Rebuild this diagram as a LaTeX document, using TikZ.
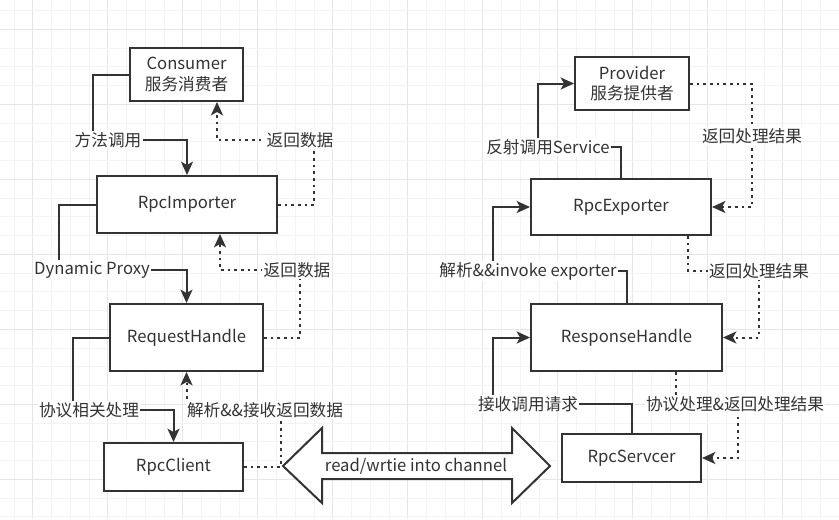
\documentclass[tikz,border=0pt]{standalone}
\usepackage{fontspec}
\setmainfont{Noto Sans CJK SC}
\usetikzlibrary{arrows.meta}
\definecolor{ink}{HTML}{333333}
\definecolor{gmin}{HTML}{F3F3F3}
\definecolor{gmaj}{HTML}{E6E6E6}
\begin{document}
\begin{tikzpicture}[x=0.75pt,y=-0.75pt,
  font=\fontsize{12.5pt}{15.5pt}\selectfont,
  box/.style={draw=ink, line width=1.5pt, fill=white, text=ink, inner sep=0pt, align=center},
  conn/.style={draw=ink, line width=1.5pt, -{Stealth[length=10pt,width=9pt,inset=2.5pt]}},
  dotline/.style={conn, dash pattern=on 2pt off 3pt},
  lab/.style={fill=white, text=ink, inner sep=1pt}]
\useasboundingbox (0,0) rectangle (839,519);
\fill[white] (0,0) rectangle (839,519);
% grid
\foreach \i in {0,...,45} {
  \pgfmathtruncatemacro{\m}{mod(\i,4)}
  \ifnum\m=2 \draw[gmaj, line width=0.75pt] (-4.75+18.75*\i,0) -- (-4.75+18.75*\i,519);
  \else \draw[gmin, line width=0.75pt] (-4.75+18.75*\i,0) -- (-4.75+18.75*\i,519); \fi
}
\foreach \j in {0,...,28} {
  \pgfmathtruncatemacro{\m}{mod(\j,4)}
  \ifnum\m=2 \draw[gmaj, line width=0.75pt] (0,-8.05+18.75*\j) -- (839,-8.05+18.75*\j);
  \else \draw[gmin, line width=0.75pt] (0,-8.05+18.75*\j) -- (839,-8.05+18.75*\j); \fi
}
% boxes
\node[box, minimum width=84.75pt, minimum height=39.75pt] (cons) at (186.5,74.5) {Consumer\\服务消费者};
\node[box, minimum width=135pt, minimum height=42.75pt] (imp) at (187,204.5) {RpcImporter};
\node[box, minimum width=114.75pt, minimum height=50.25pt] (req) at (186.5,337.5) {RequestHandle};
\node[box, minimum width=104.25pt, minimum height=36pt] (cli) at (173.5,467) {RpcClient};
\node[box, minimum width=85.5pt, minimum height=39.75pt] (prov) at (632,83.5) {Provider\\服务提供者};
\node[box, minimum width=135pt, minimum height=42pt] (exp) at (621,207) {RpcExporter};
\node[box, minimum width=143.25pt, minimum height=50.25pt] (resp) at (626.5,337.5) {ResponseHandle};
\node[box, minimum width=104.25pt, minimum height=36pt] (serv) at (631.5,458) {RpcServcer};
% big double arrow
\draw[ink, line width=1.5pt, fill=white, line join=miter]
  (283,466) -- (322,428) -- (322,453) -- (512,453) -- (512,428) -- (550,466)
  -- (512,503) -- (512,479) -- (322,479) -- (322,503) -- cycle;
\node[text=ink] (chan) at (416,466) {read/wrtie into channel};
% left connectors
\draw[conn] (cons.west) -| (93,140) -| (imp.north);
\draw[dotline] (imp.east) -| (314,140) -- (217,140) -- (217,140 |- cons.south);
\draw[conn] (imp.west) -| (59,270) -| (req.north);
\draw[dotline] (req.east) -| (300,270) -- (220,270) -- (220,270 |- imp.south);
\draw[conn] (req.west) -| (73,410) -| (cli.north);
\draw[dotline] (cli.east) -| (281,410) -| (req.south);
% right connectors
\draw[conn] (exp.north) |- (538,147) |- (prov.west);
\draw[dotline] (prov.east) -| (752,200) |- (exp.east);
\draw[conn] (resp.north) |- (493,271) |- (exp.west);
\draw[dotline] (688,271 |- exp.south) -- (688,271) -| (759,300) |- (resp.east);
\draw[conn] (serv.north) |- (493,404) |- (resp.west);
\draw[dotline] (676,404 |- resp.south) -- (676,404) -| (738,420) |- (serv.east);
% labels
\node[lab] (l1) at (108,140) {方法调用};
\node[lab] (l2) at (300,140) {返回数据};
\node[lab] (l3) at (92,270) {Dynamic Proxy};
\node[lab] (l4) at (297,270) {返回数据};
\node[lab] (l5) at (89,410) {协议相关处理};
\node[lab] (l6) at (265,410) {解析\&\&接收返回数据};
\node[lab] (l7) at (548,147) {反射调用Service};
\node[lab] (l8) at (752,136) {返回处理结果};
\node[lab] (l9) at (528,271) {解析\&\&invoke exporter};
\node[lab] (l10) at (759,271) {返回处理结果};
\node[lab] (l11) at (528,404) {接收调用请求};
\node[lab] (l12) at (735,404) {协议处理\&返回处理结果};
\end{tikzpicture}
\end{document}
